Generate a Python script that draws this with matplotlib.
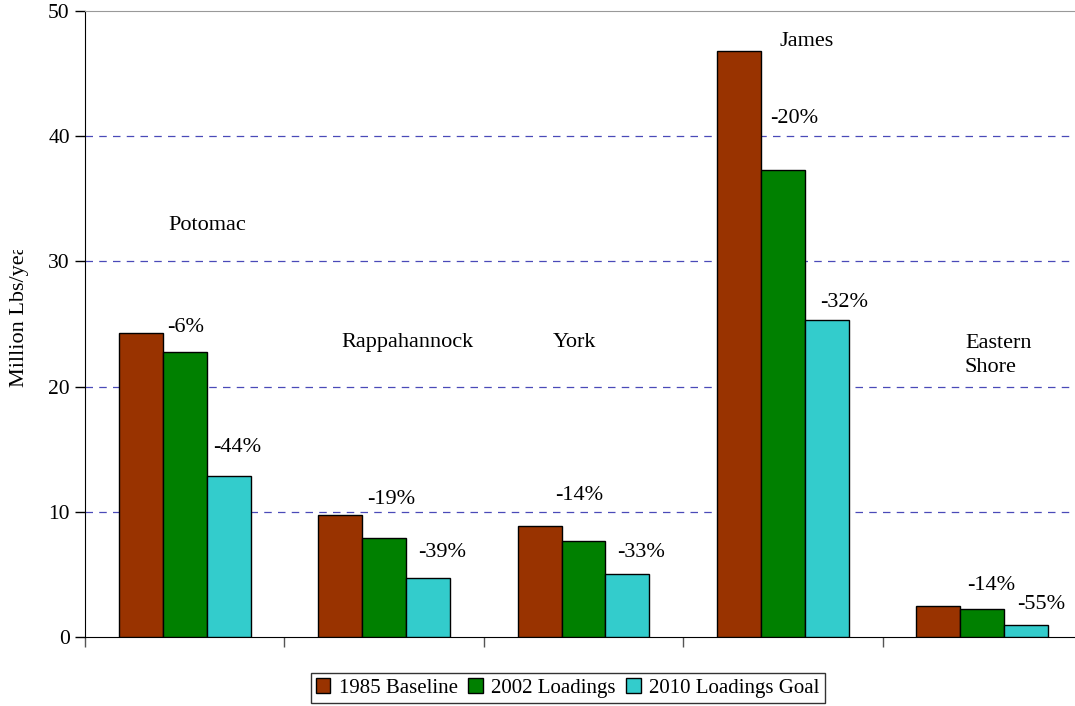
import matplotlib

matplotlib.use("Agg")
import matplotlib.pyplot as plt
import numpy as np
from matplotlib.transforms import Bbox

basins = ["Potomac", "Rappahannock", "York", "James", "Eastern\nShore"]
series_names = ["1985 Baseline", "2002 Loadings", "2010 Loadings Goal"]
baseline_1985 = [24.3, 9.75, 8.9, 46.8, 2.5]
loadings_2002 = [22.8, 7.9, 7.7, 37.3, 2.2]
goal_2010 = [12.9, 4.7, 5.0, 25.3, 1.0]
pct_2002 = ["-6%", "-19%", "-14%", "-20%", "-14%"]
pct_2010 = ["-44%", "-39%", "-33%", "-32%", "-55%"]

colors = ["#993300", "#008000", "#33CCCC"]

# text placement (data coords, left-aligned)
name_pos = [(-0.084, 32.9), (0.784, 23.56), (1.847, 23.56), (2.985, 47.6), (3.913, 22.5)]
pct_2002_pos = [(-0.089, 24.76), (0.914, 11.02), (1.857, 11.34), (2.935, 41.45), (3.923, 4.15)]
pct_2010_pos = [(0.142, 15.1), (1.170, 6.79), (2.168, 6.79), (3.186, 26.68), (4.174, 2.56)]

plt.rcParams["font.family"] = ["Liberation Serif", "DejaVu Serif"]
plt.rcParams["font.size"] = 15

W, H = 1075, 706
fig = plt.figure(figsize=(W / 100, H / 100), dpi=100)
ax = fig.add_axes([0.0791, 0.0977, 0.9274, 0.8867])

x = np.arange(len(basins))
width = 0.22
for i, (vals, name) in enumerate(zip([baseline_1985, loadings_2002, goal_2010], series_names)):
    ax.bar(x + (i - 1) * width, vals, width, color=colors[i], edgecolor="black",
           linewidth=1.0, label=name, zorder=3)

for name, (tx, ty) in zip(basins, name_pos):
    ax.text(tx, ty, name, ha="left", va="center", fontsize=16, linespacing=1.4, zorder=4)
box = dict(facecolor="white", edgecolor="none", pad=1.5)
for lab, (tx, ty) in zip(pct_2002, pct_2002_pos):
    ax.text(tx, ty, lab, ha="left", va="center", fontsize=16, zorder=4, bbox=box)
for lab, (tx, ty) in zip(pct_2010, pct_2010_pos):
    ax.text(tx, ty, lab, ha="left", va="center", fontsize=16, zorder=4, bbox=box)

ax.set_xlim(-0.5, len(basins) - 0.5)
ax.set_ylim(0, 50)
ax.set_yticks([0, 10, 20, 30, 40, 50])
ax.set_xticks(np.arange(len(basins) + 1) - 0.5)
ax.set_xticklabels([])
ax.tick_params(axis="y", length=7, width=1, direction="out", labelsize=15.5, pad=4)
ax.tick_params(axis="x", length=7, width=1, direction="out", color="#555555")
for gy in [10, 20, 30, 40]:
    ax.axhline(gy, color="#4a4ab8", linestyle=(0, (6, 5)), linewidth=0.9, zorder=1)

ax.spines["right"].set_visible(False)
ax.spines["top"].set_color("#999999")
ax.spines["left"].set_color("black")
ax.spines["bottom"].set_color("black")

# y label, clipped at the top like the original text box
ylab = fig.text(20 / W, (H - 387) / H, "Million Lbs/year", rotation=90,
                ha="center", va="bottom", fontsize=16)
ylab.set_clip_box(Bbox.from_extents(0, 0, 60, H - 250))
ylab.set_clip_on(True)

handles, labels = ax.get_legend_handles_labels()
leg = fig.legend(handles, labels, loc="center", bbox_to_anchor=(0.528, 0.0255), ncol=3,
                 fontsize=15, frameon=True, fancybox=False, edgecolor="black",
                 handlelength=0.7, handleheight=0.7, handletextpad=0.4,
                 columnspacing=0.5, borderpad=0.25)
leg.get_frame().set_linewidth(1.0)

fig.savefig("out.png", dpi=100, facecolor="white")
